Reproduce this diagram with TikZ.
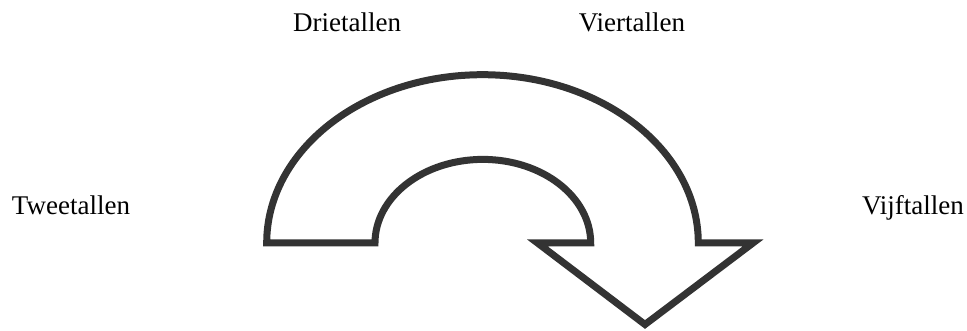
\documentclass[tikz,border=0pt]{standalone}
\usepackage{fontspec}
\setmainfont{Liberation Serif}
\begin{document}
\begin{tikzpicture}[x=1pt,y=1pt,
  lbl/.style={anchor=base,inner sep=0pt,font=\fontsize{27}{32}\selectfont,text=black},
  bentarrow/.style={draw={rgb,255:red,51;green,51;blue,51},fill=white,line width=7pt,line join=miter,miter limit=20}]
\useasboundingbox (0,0) rectangle (967,331);
\fill[white] (0,0) rectangle (967,331);
\draw[bentarrow] (266.7,88) arc[start angle=180,end angle=0,x radius=215.8,y radius=168.3]
  -- (753,88) -- (645,6.5) -- (537.5,88) -- (590.7,88)
  arc[start angle=0,end angle=180,x radius=107.85,y radius=83.6] -- cycle;
\node[lbl] (drie) at (347,299) {Drietallen};
\node[lbl] (vier) at (632,299) {Viertallen};
\node[lbl] (twee) at (71,116) {Tweetallen};
\node[lbl] (vijf) at (913,116) {Vijftallen};
\end{tikzpicture}
\end{document}
